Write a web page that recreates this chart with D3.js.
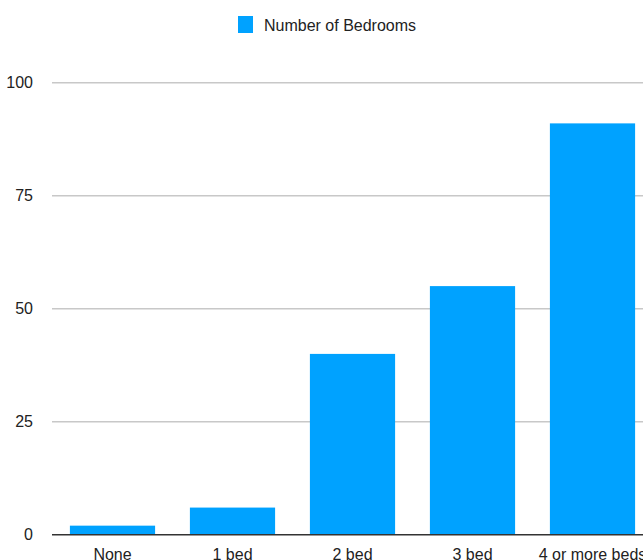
<!DOCTYPE html>
<html><head><meta charset="utf-8">
<script src="https://cdn.jsdelivr.net/npm/d3@7"></script>
<style>html,body{margin:0;padding:0;background:#fff;overflow:hidden}</style>
</head><body>
<svg id="c" width="643" height="560"></svg>
<script>
const categories = ["None", "1 bed", "2 bed", "3 bed", "4 or more beds"];
const values = [2, 6, 40, 55, 91];
const yTicks = [0, 25, 50, 75, 100];
const seriesName = "Number of Bedrooms";

const svg = d3.select("#c");
const font = "'Liberation Sans', Arial, Helvetica, sans-serif";
const x = d3.scaleBand().domain(categories).range([52.5, 652.5]).paddingInner(0.29).paddingOuter(0.145);
const y = d3.scaleLinear().domain([0, 100]).range([534.7, 82.7]);

// y axis labels
const yAxis = d3.axisLeft(y).tickValues(yTicks).tickSize(0).tickPadding(19);
const gy = svg.append("g").attr("transform", "translate(52,0)").call(yAxis);
gy.select(".domain").remove();
gy.selectAll("text").attr("font-family", font).attr("font-size", 16).attr("fill", "#222");

// gridlines
svg.append("g").selectAll("line").data(yTicks.filter(d => d !== 0)).join("line")
  .attr("x1", 52).attr("x2", 643).attr("y1", d => y(d)).attr("y2", d => y(d))
  .attr("stroke", "#c8c8c8").attr("stroke-width", 1.6);

// bars
svg.append("g").selectAll("rect").data(values).join("rect")
  .attr("x", (d, i) => x(categories[i])).attr("width", x.bandwidth())
  .attr("y", d => y(d)).attr("height", d => y(0) - y(d))
  .attr("fill", "#00a2ff");

// baseline
svg.append("line").attr("x1", 52).attr("x2", 643).attr("y1", y(0)).attr("y2", y(0))
  .attr("stroke", "#333").attr("stroke-width", 1.6);

// x axis labels
const xAxis = d3.axisBottom(x).tickSize(0).tickPadding(14);
const gx = svg.append("g").attr("transform", `translate(0,${y(0)})`).call(xAxis);
gx.select(".domain").remove();
gx.selectAll("text").attr("font-family", font).attr("font-size", 16).attr("fill", "#222");

// legend
const lg = svg.append("g");
lg.append("rect").attr("x", 238).attr("y", 16).attr("width", 15).attr("height", 17).attr("fill", "#00a2ff");
lg.append("text").attr("x", 264).attr("y", 31).attr("font-family", font).attr("font-size", 16)
  .attr("fill", "#222").text(seriesName);
</script>
</body></html>
